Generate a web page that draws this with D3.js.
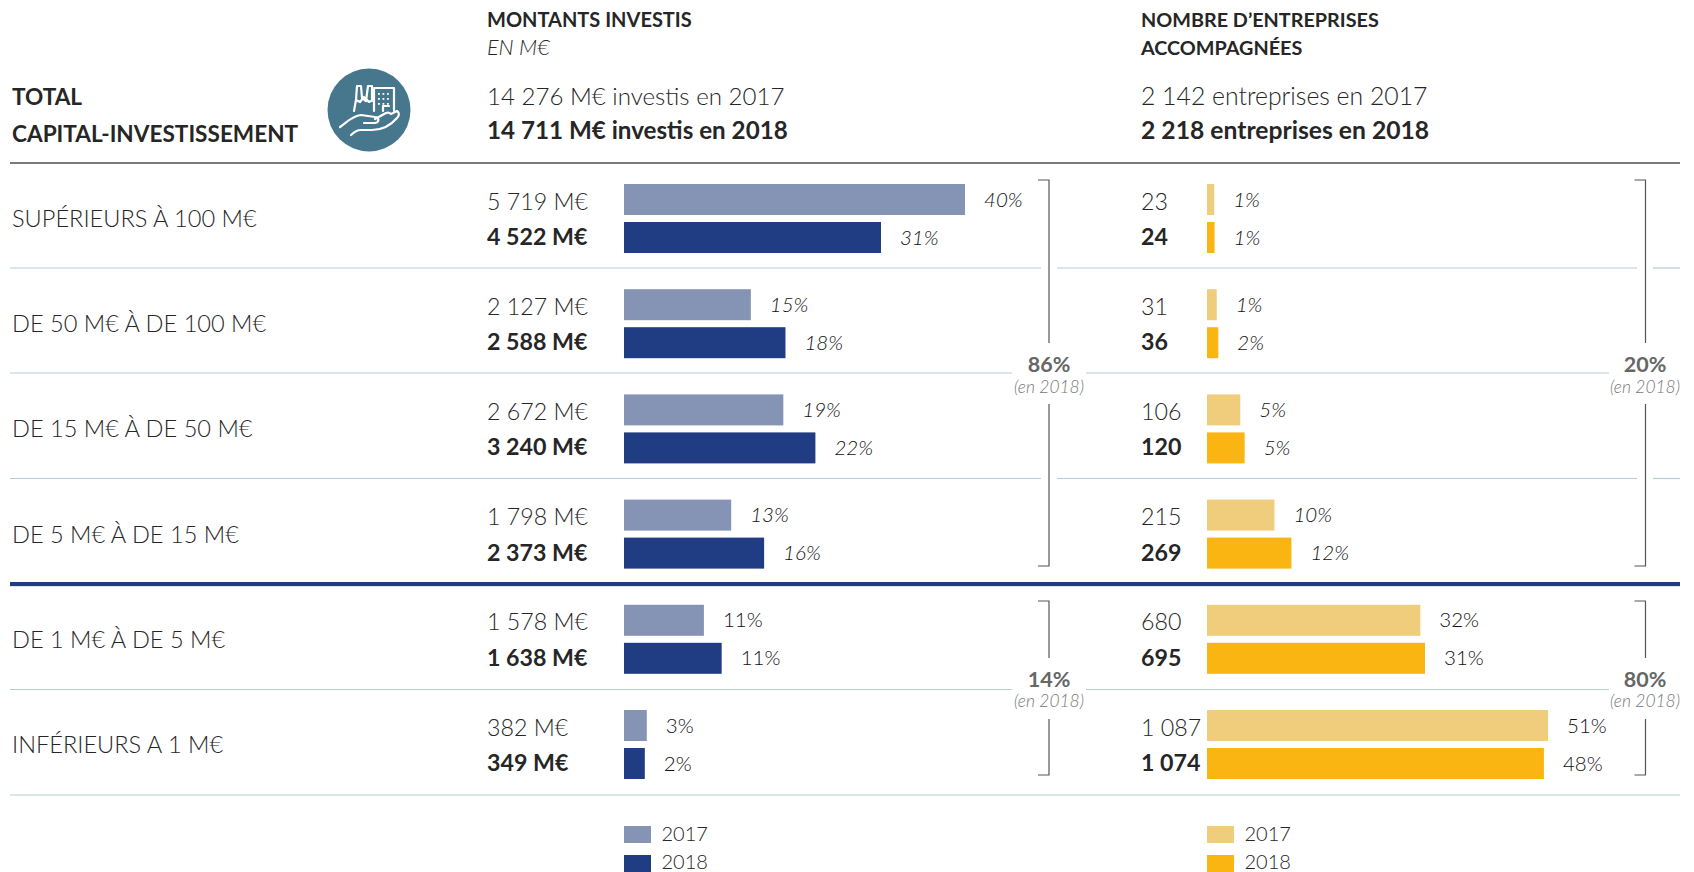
<!DOCTYPE html>
<html lang="fr"><head><meta charset="utf-8">
<style>
html,body{margin:0;padding:0;background:#fff;overflow:hidden}
text{font-family:Lato,"Open Sans",sans-serif;fill:#262626}
</style>
<script src="https://cdn.jsdelivr.net/npm/d3@7"></script>
</head><body><svg id="c" width="1694" height="872"></svg>
<script>
const categories=["SUPÉRIEURS À 100 M€","DE 50 M€ À DE 100 M€","DE 15 M€ À DE 50 M€","DE 5 M€ À DE 15 M€","DE 1 M€ À DE 5 M€","INFÉRIEURS A 1 M€"];
const years=["2017","2018"];
const investLabels2017=["5 719 M€","2 127 M€","2 672 M€","1 798 M€","1 578 M€","382 M€"];
const investLabels2018=["4 522 M€","2 588 M€","3 240 M€","2 373 M€","1 638 M€","349 M€"];
// Bar lengths in M€: some drawn bars differ a little from their printed label.
const investBars2017=[5719,2127,2672,1798,1340,382];
const investBars2018=[4310,2708,3210,2350,1638,349];
const investPct2017=["40%","15%","19%","13%","11%","3%"];
const investPct2018=["31%","18%","22%","16%","11%","2%"];
const companyLabels2017=["23","31","106","215","680","1 087"];
const companyLabels2018=["24","36","120","269","695","1 074"];
const companies2017=[23,31,106,215,680,1087];
const companies2018=[24,36,120,269,695,1074];
const companyPct2017=["1%","1%","5%","10%","32%","51%"];
const companyPct2018=["1%","2%","5%","12%","31%","48%"];
const colInvest=["#8593b5","#203c82"], colCompany=["#f0cd7c","#fbb512"];
const groupInvest=[["86%",372,393],["14%",687,707]];
const groupCompany=[["20%",372,393],["80%",687,707]];

const svg=d3.select("#c");
const rowY=d3.scalePoint().domain(categories).range([184,710]);
const xInvest=d3.scaleLinear().domain([0,5719]).range([624,965]);
const xCompany=d3.scaleLinear().domain([0,1087]).range([1207,1548]);
const BH=31, OFF=38, SZ=23.2;

function t(x,y,s,o={}){
  return svg.append("text").attr("x",x).attr("y",y).text(s)
   .style("font-size",(o.size||SZ)+"px").style("font-weight",o.w||300)
   .style("font-style",o.i?"italic":"normal").style("fill",o.c||"#262626")
   .attr("text-anchor",o.a||"start");
}
function hl(a,b,y,c,w){svg.append("line").attr("x1",a).attr("x2",b).attr("y1",y).attr("y2",y).attr("stroke",c).attr("stroke-width",w);}

// rules
const sep="#b5ccdc";
hl(10,1680,163,"#7a7a7a",2);
[[268,[[10,1041],[1057,1637],[1653,1680]]],[373,[[10,1012],[1086,1609]]],[478.5,[[10,1041],[1057,1637],[1653,1680]]],[689.5,[[10,1012],[1086,1609]]]]
 .forEach(([y,segs])=>segs.forEach(s=>hl(s[0],s[1],y,sep,1.2)));
hl(10,1680,795,"#cfdce6",1.5);
hl(10,1680,584,"#203c82",4);
hl(10,1680,586.5,"#dbe5ee",1);

// header
t(12,105,"TOTAL",{w:700,size:22.6});
t(12,142,"CAPITAL-INVESTISSEMENT",{w:700,size:22.6});
t(487,27,"MONTANTS INVESTIS",{w:700,size:20});
t(487,55,"EN M€",{i:1,size:21.5});
t(487,105,"14 276 M€ investis en 2017",{size:24.1});
t(487,139,"14 711 M€ investis en 2018",{w:700,size:24.2});
t(1141,27,"NOMBRE D’ENTREPRISES",{w:700,size:19.8});
t(1141,55,"ACCOMPAGNÉES",{w:700,size:19.8});
t(1141,105,"2 142 entreprises en 2017",{size:24.8});
t(1141,139,"2 218 entreprises en 2018",{w:700,size:24.7});

// icon
const ic=svg.append("g").attr("transform","translate(369,110)");
ic.append("circle").attr("r",41.5).attr("fill","#47778d");
const ip=ic.append("g").attr("fill","none").attr("stroke","#fff").attr("stroke-width",2.2).attr("stroke-linejoin","round").attr("stroke-linecap","round");
["M-15,1 L-13,-10 L-12,-24 L-8,-24 L-7,-12 L-3,-9 L-1,-24 L3,-24 L3,-9",
 "M-13,-10 L-9,-8 L-5,-13 L0,-8 L2,-9",
 "M5,1 V-22 H25 V1 M5,-22 H25",
 "M14,1 V-4 H20",
 "M-29,17 C-22,12 -17,6 -8,5 L6,7 C10,7 11,12 6,13 L-5,13",
 "M6,9 L17,3 C20,2 21,3 22,4 L28,1 C31,3 30,6 28,8 C22,15 14,20 3,20 L-8,20 C-12,20 -15,22 -18,25"
].forEach(d=>ip.append("path").attr("d",d));
ip.selectAll("rect").data(d3.cross([9,13.5,18],[-17,-12,-7])).join("rect")
  .attr("x",d=>d[0]).attr("y",d=>d[1]).attr("width",1.8).attr("height",1.8).attr("fill","#fff").attr("stroke","none");

// row labels
svg.append("g").selectAll("text").data(categories).join("text")
 .attr("x",12).attr("y",d=>rowY(d)+43).text(d=>d).style("font-size","23.6px").style("font-weight",300);

function series(x,xLabel,a17,a18,l17,l18,p17,p18,cols){
 [[a17,l17,p17,0,25.5,300],[a18,l18,p18,1,23,700]].forEach(([vals,labs,pct,k,dy,w])=>{
  const dat=categories.map((c,i)=>({c,i,v:vals[i],l:labs[i],p:pct[i]}));
  const g=svg.append("g");
  g.selectAll("rect").data(dat).join("rect")
   .attr("x",x(0)).attr("y",d=>rowY(d.c)+k*OFF).attr("width",d=>x(d.v)-x(0)).attr("height",BH).attr("fill",cols[k]);
  g.selectAll("text.v").data(dat).join("text").attr("class","v")
   .attr("x",xLabel).attr("y",d=>rowY(d.c)+k*OFF+dy).text(d=>d.l)
   .style("font-size",SZ+"px").style("font-weight",w);
  g.selectAll("text.p").data(dat).join("text").attr("class","p")
   .attr("x",d=>x(d.v)+19).attr("y",d=>rowY(d.c)+k*OFF+22.5).text(d=>d.p)
   .style("font-size","20.5px").style("font-weight",300).style("fill","#111").style("font-style",d=>d.i<4?"italic":"normal");
 });
}
series(xInvest,487,investBars2017,investBars2018,investLabels2017,investLabels2018,investPct2017,investPct2018,colInvest);
series(xCompany,1141,companies2017,companies2018,companyLabels2017,companyLabels2018,companyPct2017,companyPct2018,colCompany);

// brackets
function bracket(x,y1,y2,y3,y4){
 svg.append("path").attr("fill","none").attr("stroke","#555").attr("stroke-width",1.2)
  .attr("d",`M${x-11},${y1}H${x}V${y2}M${x},${y3}V${y4}H${x-11}`);
}
[1049,1645.5].forEach(x=>{bracket(x,180,343,404,566);bracket(x,601,658,719,775);});
[[1049,groupInvest],[1645,groupCompany]].forEach(([x,g])=>g.forEach(([p,a,b])=>{
 t(x,a,p,{w:700,a:"middle",size:21.5,c:"#666"});
 t(x,b,"(en 2018)",{i:1,a:"middle",size:17.4,c:"#777"});
}));

// legends
[[624,colInvest],[1207,colCompany]].forEach(([x,c])=>{
 years.forEach((y,i)=>{
  svg.append("rect").attr("x",x).attr("y",826+i*29).attr("width",27).attr("height",17).attr("fill",c[i]);
  t(x+37.5,841+i*28,y,{size:20});
 });
});
</script></body></html>
